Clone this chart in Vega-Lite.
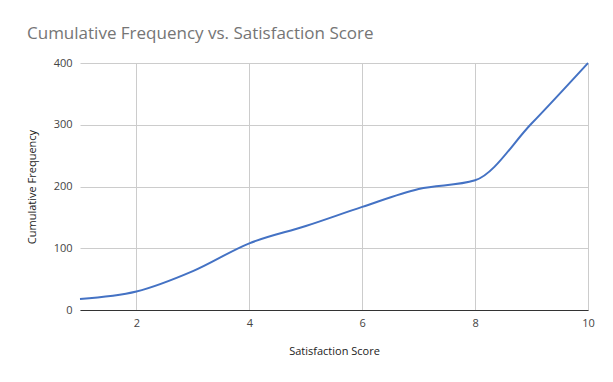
{
  "$schema": "https://vega.github.io/schema/vega-lite/v6.json",
  "width": 508,
  "height": 247,
  "autosize": {"type": "none"},
  "padding": {"left": 80, "top": 63, "right": 25, "bottom": 72},
  "background": "white",
  "title": {
    "text": "Cumulative Frequency vs. Satisfaction Score",
    "anchor": "start",
    "frame": "group",
    "dx": -53,
    "offset": 14,
    "font": "Open Sans",
    "fontSize": 17,
    "fontWeight": "normal",
    "color": "#757575"
  },
  "data": {
    "values": [
      {"score": 1, "cumfreq": 18},
      {"score": 2, "cumfreq": 30},
      {"score": 3, "cumfreq": 63},
      {"score": 4, "cumfreq": 108},
      {"score": 5, "cumfreq": 136},
      {"score": 6, "cumfreq": 167},
      {"score": 7, "cumfreq": 196},
      {"score": 8, "cumfreq": 210},
      {"score": 9, "cumfreq": 302},
      {"score": 10, "cumfreq": 400}
    ]
  },
  "mark": {"type": "line", "interpolate": "monotone", "color": "#4472c4", "strokeWidth": 2},
  "encoding": {
    "x": {
      "field": "score",
      "type": "quantitative",
      "title": "Satisfaction Score",
      "scale": {"domain": [1, 10], "nice": false, "zero": false},
      "axis": {
        "values": [2, 4, 6, 8, 10],
        "ticks": false,
        "labelFlush": false,
        "domainColor": "#333333",
        "domainWidth": 1,
        "gridColor": "#cccccc",
        "labelFont": "Open Sans",
        "labelFontSize": 11,
        "labelColor": "#444444",
        "labelPadding": 7,
        "titleFont": "Open Sans",
        "titleFontSize": 11,
        "titleFontWeight": "normal",
        "titleColor": "#222222",
        "titlePadding": 17
      }
    },
    "y": {
      "field": "cumfreq",
      "type": "quantitative",
      "title": "Cumulative Frequency",
      "scale": {"domain": [0, 400], "nice": false},
      "axis": {
        "values": [0, 100, 200, 300, 400],
        "ticks": false,
        "domain": false,
        "labelFlush": false,
        "gridColor": "#cccccc",
        "labelFont": "Open Sans",
        "labelFontSize": 11,
        "labelColor": "#444444",
        "labelPadding": 8,
        "titleFont": "Open Sans",
        "titleFontSize": 11,
        "titleFontWeight": "normal",
        "titleColor": "#222222",
        "titlePadding": 16
      }
    }
  },
  "config": {"view": {"stroke": null}}
}
